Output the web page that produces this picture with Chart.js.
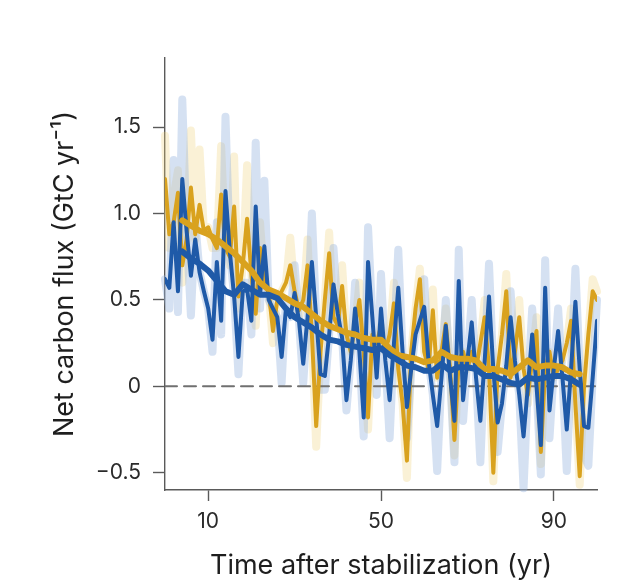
<!DOCTYPE html>
<html>
<head>
<meta charset="utf-8">
<script src="https://cdn.jsdelivr.net/npm/chart.js@4"></script>
<style>
  html, body { margin: 0; padding: 0; background: #fff; }
</style>
</head>
<body>
<canvas id="fluxChart" width="617" height="582"></canvas>
<script>
// years after stabilization, one value per year
const years = Array.from({ length: 101 }, (_, i) => i);

const blueAnnual = [
  0.62, 0.57, 0.95, 0.55, 1.20, 0.90, 0.64, 0.85, 0.66, 0.55,
  0.45, 0.27, 0.72, 0.38, 1.13, 0.78, 0.52, 0.17, 0.55, 0.56,
  0.38, 1.04, 0.53, 0.81, 0.50, 0.45, 0.40, 0.17, 0.45, 0.40,
  0.54, 0.38, 0.13, 0.40, 0.72, 0.40, 0.07, 0.06, 0.30, 0.59,
  0.42, 0.28, -0.08, 0.15, 0.45, 0.20, -0.18, 0.72, 0.40, 0.05,
  0.45, 0.15, -0.08, 0.25, 0.57, 0.20, -0.12, 0.10, 0.30, 0.38,
  0.46, 0.15, -0.05, -0.23, 0.05, 0.35, 0.05, -0.20, 0.61, -0.08,
  0.15, 0.37, 0.05, -0.20, 0.15, 0.52, 0.10, -0.21, -0.10, 0.12,
  0.40, 0.15, -0.05, -0.29, 0.00, 0.30, 0.00, -0.34, 0.57, -0.14,
  0.10, 0.32, 0.05, -0.25, 0.10, 0.49, 0.10, -0.23, -0.24, 0.05,
  0.38
];

const yellowAnnual = [
  1.20, 0.88, 0.95, 1.12, 0.70, 0.85, 1.15, 0.88, 1.05, 0.90,
  0.92, 0.85, 0.80, 1.11, 0.80, 0.75, 1.04, 0.52, 0.70, 0.97,
  0.65, 0.42, 0.80, 0.60, 0.55, 0.32, 0.50, 0.55, 0.60, 0.70,
  0.55, 0.44, 0.50, 0.70, 0.30, -0.23, 0.20, 0.50, 0.77, 0.40,
  0.35, 0.58, 0.30, 0.20, 0.35, 0.50, 0.20, -0.18, 0.30, 0.25,
  0.35, 0.20, 0.30, 0.48, 0.10, -0.10, -0.43, 0.20, 0.45, 0.62,
  0.20, 0.10, 0.44, 0.05, 0.20, 0.36, 0.10, -0.31, 0.15, 0.20,
  0.10, 0.20, 0.10, 0.25, 0.40, 0.10, -0.50, 0.10, 0.30, 0.55,
  0.05, 0.20, 0.40, 0.10, -0.05, 0.15, 0.32, -0.38, 0.10, 0.20,
  0.05, 0.10, 0.15, 0.25, 0.38, -0.10, -0.52, 0.00, 0.30, 0.55,
  0.50
];

// outer edge of the light ensemble shading (extremes of the spread)
const blueSpread = [
  0.62, 0.45, 1.31, 0.43, 1.66, 0.90, 0.41, 0.95, 0.66, 0.55,
  0.45, 0.20, 0.95, 0.30, 1.56, 0.78, 0.52, 0.07, 0.60, 0.60,
  0.30, 1.41, 0.45, 1.19, 0.50, 0.45, 0.40, 0.02, 0.50, 0.40,
  0.70, 0.38, 0.02, 0.40, 1.00, 0.40, -0.02, -0.02, 0.30, 0.80,
  0.42, 0.28, -0.14, 0.15, 0.60, 0.20, -0.29, 0.92, 0.40, -0.05,
  0.65, 0.15, -0.30, 0.25, 0.79, 0.20, -0.30, 0.10, 0.30, 0.45,
  0.62, 0.15, -0.05, -0.49, 0.05, 0.50, 0.05, -0.44, 0.79, -0.20,
  0.15, 0.50, 0.05, -0.44, 0.15, 0.71, 0.10, -0.38, -0.10, 0.12,
  0.55, 0.15, -0.05, -0.59, 0.00, 0.45, 0.00, -0.51, 0.73, -0.30,
  0.10, 0.45, 0.05, -0.49, 0.10, 0.68, 0.10, -0.40, -0.46, 0.05,
  0.50
];

const yellowSpread = [
  1.45, 0.80, 1.10, 1.25, 0.60, 0.85, 1.48, 0.85, 1.37, 0.90,
  0.92, 0.80, 0.80, 1.39, 0.80, 0.70, 1.33, 0.45, 0.70, 1.28,
  0.65, 0.35, 0.95, 0.60, 0.55, 0.25, 0.50, 0.55, 0.60, 0.86,
  0.55, 0.40, 0.50, 0.85, 0.30, -0.35, 0.20, 0.50, 0.89, 0.40,
  0.35, 0.70, 0.30, 0.20, 0.35, 0.60, 0.20, -0.25, 0.30, 0.25,
  0.35, 0.20, 0.30, 0.60, 0.10, -0.10, -0.53, 0.20, 0.45, 0.68,
  0.20, 0.10, 0.56, 0.05, 0.20, 0.45, 0.10, -0.40, 0.15, 0.20,
  0.10, 0.20, 0.10, 0.25, 0.50, 0.10, -0.55, 0.10, 0.30, 0.65,
  0.05, 0.20, 0.50, 0.10, -0.10, 0.15, 0.40, -0.45, 0.10, 0.20,
  0.05, 0.10, 0.15, 0.25, 0.45, -0.10, -0.57, 0.00, 0.30, 0.62,
  0.55
];

// running-mean curves, read every second year
const smoothYears = [
  4, 6, 8, 10, 12, 14, 16, 18, 20, 22, 24, 26, 28, 30, 32, 34,
  36, 38, 40, 42, 44, 46, 48, 50, 52, 54, 56, 58, 60, 62, 64, 66,
  68, 70, 72, 74, 76, 78, 80, 82, 84, 86, 88, 90, 92, 94, 96
];
const blueSmooth = [
  0.78, 0.74, 0.71, 0.67, 0.61, 0.55, 0.53, 0.59, 0.56, 0.53, 0.53, 0.51, 0.45, 0.40, 0.37, 0.34,
  0.30, 0.27, 0.26, 0.24, 0.23, 0.22, 0.21, 0.22, 0.18, 0.15, 0.12, 0.11, 0.09, 0.09, 0.13, 0.09,
  0.11, 0.11, 0.10, 0.06, 0.06, 0.04, 0.02, 0.01, 0.05, 0.04, 0.05, 0.06, 0.06, 0.04, 0.01
];
const yellowSmooth = [
  0.96, 0.93, 0.90, 0.88, 0.85, 0.81, 0.77, 0.72, 0.67, 0.60, 0.56, 0.54, 0.51, 0.48, 0.46, 0.42,
  0.38, 0.35, 0.33, 0.31, 0.30, 0.28, 0.27, 0.27, 0.22, 0.18, 0.17, 0.16, 0.14, 0.15, 0.20, 0.17,
  0.16, 0.16, 0.15, 0.10, 0.10, 0.09, 0.07, 0.11, 0.15, 0.11, 0.12, 0.12, 0.11, 0.08, 0.07
];

const zeroLineX = [0, 100];
const yTicks = [-0.5, 0, 0.5, 1.0, 1.5];
const yTickLabels = ["\u22120.5", "0", "0.5", "1.0", "1.5"];
const xTicks = [10, 50, 90];

const BLUE = "#1f5aa8";
const GOLD = "#d9a21e";
const AXIS = "#5a5a5a";
const FONT = "Inter";

function pts(xs, ys) {
  return xs.map((x, i) => ({ x: x, y: ys[i] }));
}

new Chart(document.getElementById("fluxChart"), {
  type: "line",
  data: {
    datasets: [
      { data: pts(smoothYears, blueSmooth), borderColor: BLUE, borderWidth: 6, order: 0 },
      { data: pts(smoothYears, yellowSmooth), borderColor: GOLD, borderWidth: 6, order: 1 },
      { data: pts(years, blueAnnual), borderColor: BLUE, borderWidth: 4, order: 2 },
      { data: pts(years, yellowAnnual), borderColor: GOLD, borderWidth: 4, order: 3 },
      {
        data: zeroLineX.map(x => ({ x: x, y: 0 })),
        borderColor: "#707070", borderWidth: 2, borderDash: [12, 7], order: 4
      },
      {
        data: pts(years, blueSpread),
        borderColor: "rgba(150,180,222,0.4)", borderWidth: 8, clip: false, order: 5
      },
      {
        data: pts(years, yellowSpread),
        borderColor: "rgba(240,210,120,0.3)", borderWidth: 8, clip: false, order: 6
      }
    ]
  },
  options: {
    responsive: false,
    animation: false,
    layout: { padding: { top: 58, right: 20, left: 0, bottom: 0 } },
    elements: {
      point: { radius: 0 },
      line: { tension: 0, borderJoinStyle: "round", borderCapStyle: "round" }
    },
    plugins: {
      legend: { display: false },
      tooltip: { enabled: false }
    },
    scales: {
      x: {
        type: "linear",
        min: 0,
        max: 100,
        afterFit: s => { s.height = 92; },
        afterBuildTicks: s => { s.ticks = xTicks.map(v => ({ value: v })); },
        border: { color: AXIS, width: 1.4 },
        grid: { drawOnChartArea: false, tickLength: 11, color: AXIS, tickWidth: 1.4 },
        ticks: { color: "#2a2a2a", padding: 8, font: { family: FONT, size: 21 } },
        title: {
          display: true,
          text: "Time after stabilization (yr)",
          color: "#1e1e1e",
          font: { family: FONT, size: 27 },
          padding: { top: 0, bottom: 0 }
        }
      },
      y: {
        min: -0.6,
        max: 1.9,
        afterFit: s => { s.width = 165; },
        afterBuildTicks: s => { s.ticks = yTicks.map(v => ({ value: v })); },
        border: { color: AXIS, width: 1.4 },
        grid: { drawOnChartArea: false, tickLength: 12, color: AXIS, tickWidth: 1.4 },
        ticks: {
          color: "#2a2a2a",
          padding: 12,
          font: { family: FONT, size: 21 },
          callback: v => yTickLabels[yTicks.indexOf(v)]
        },
        title: {
          display: true,
          text: "Net carbon flux (GtC yr\u207B\u00B9)",
          color: "#1e1e1e",
          font: { family: FONT, size: 27 },
          padding: { top: 49, bottom: 0 }
        }
      }
    }
  }
});
</script>
</body>
</html>
